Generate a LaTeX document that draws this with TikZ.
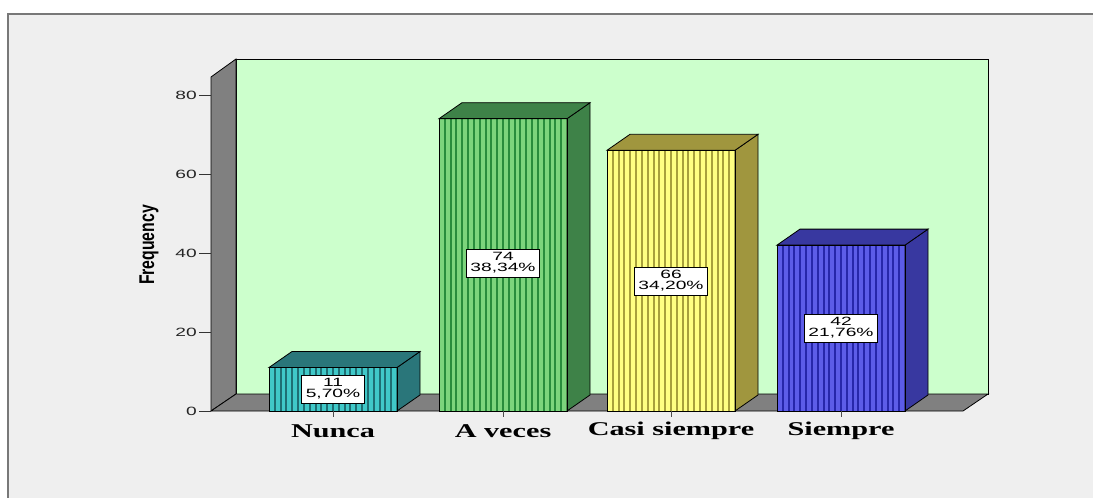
\documentclass[tikz,border=0pt]{standalone}
\usepackage{graphicx}
\usepackage{fontspec}
\setmainfont{Liberation Serif}
\setsansfont{Liberation Sans}
\definecolor{panel}{RGB}{239,239,239}
\definecolor{panelborder}{RGB}{120,120,120}
\definecolor{wallgreen}{RGB}{204,255,204}
\definecolor{wallgray}{RGB}{128,128,128}
\definecolor{nlight}{RGB}{64,200,200}
\definecolor{ndark}{RGB}{30,110,115}
\definecolor{nside}{RGB}{42,118,122}
\definecolor{alight}{RGB}{124,212,124}
\definecolor{adark}{RGB}{40,140,60}
\definecolor{aside}{RGB}{62,130,72}
\definecolor{clight}{RGB}{255,255,130}
\definecolor{cdark}{RGB}{168,160,60}
\definecolor{cside}{RGB}{160,150,62}
\definecolor{slight}{RGB}{92,92,232}
\definecolor{sdark}{RGB}{38,38,170}
\definecolor{sside}{RGB}{56,56,160}
\newcommand\drawbar[5]{%
  \fill[#3] (#1,#2) rectangle ({#1+128},411);
  \foreach \k in {1,...,21} \draw[#4,line width=2pt] ({#1+\k*128/22},#2) -- ({#1+\k*128/22},411);
  \filldraw[fill=#5,draw=black,line width=0.8pt] ({#1+128},411) -- ({#1+151},395) -- ({#1+151},{#2-16}) -- ({#1+128},#2) -- cycle;
  \filldraw[fill=#5,draw=black,line width=0.8pt] (#1,#2) -- ({#1+23},{#2-16}) -- ({#1+151},{#2-16}) -- ({#1+128},#2) -- cycle;
  \draw[black,line width=0.8pt] (#1,#2) rectangle ({#1+128},411);
  \draw[black!70,line width=0.8pt] ({#1+64},411) -- ({#1+64},417);
}
\begin{document}
\begin{tikzpicture}[x=1pt,y=-1pt,
  wall/.style={fill=wallgray,draw=black,line width=0.8pt},
  ticklbl/.style={anchor=east,xscale=1.6,inner sep=0pt,font=\sffamily\fontsize{12}{12}\selectfont,text=black!85},
  catlbl/.style={xscale=1.55,inner sep=0pt,font=\bfseries\fontsize{19.5}{19.5}\selectfont},
  vallbl/.style={draw=black,fill=white,xscale=1.6,align=center,line width=0.6pt,inner xsep=2.5pt,inner ysep=3.5pt,font=\sffamily\fontsize{12}{11}\selectfont}]
\useasboundingbox (0,0) rectangle (1093,498);
\fill[white] (0,0) rectangle (1093,498);
\fill[panel] (8,14) rectangle (1093,498);
\draw[panelborder,line width=2pt] (8,498) -- (8,14) -- (1093,14);
% walls
\filldraw[fill=wallgreen,draw=black,line width=1pt] (236,59) rectangle (988,394);
\filldraw[wall] (211,77) -- (236,59) -- (236,394) -- (211,411) -- cycle;
\filldraw[wall] (211,411) -- (236,394) -- (988,394) -- (963,411) -- cycle;
% y axis
\foreach \v in {0,20,40,60,80} {
  \draw[black!80,line width=0.8pt] (199,{411-\v*3.95}) -- (211,{411-\v*3.95});
  \node[ticklbl] (t\v) at (197,{411-\v*3.95}) {\v};
}
\node[rotate=90,inner sep=0pt,font=\sffamily\bfseries\fontsize{15.8}{15.8}\selectfont] (ylab) at (149,245) {\scalebox{1}[1.35]{Frequency}};
% bars
\drawbar{269}{367.5}{nlight}{ndark}{nside}
\drawbar{439}{118.7}{alight}{adark}{aside}
\drawbar{607}{150.3}{clight}{cdark}{cside}
\drawbar{777}{245.1}{slight}{sdark}{sside}
% value labels
\node[vallbl] (v1) at (333,389) {11\\5,70\%};
\node[vallbl] (v2) at (503,263) {74\\38,34\%};
\node[vallbl] (v3) at (671,281) {66\\34,20\%};
\node[vallbl] (v4) at (841,328) {42\\21,76\%};
% category labels
\node[catlbl] (c1) at (333,431) {Nunca};
\node[catlbl] (c2) at (503,431) {A veces};
\node[catlbl] (c3) at (671,431) {Casi siempre};
\node[catlbl] (c4) at (841,431) {Siempre};
\end{tikzpicture}
\end{document}
